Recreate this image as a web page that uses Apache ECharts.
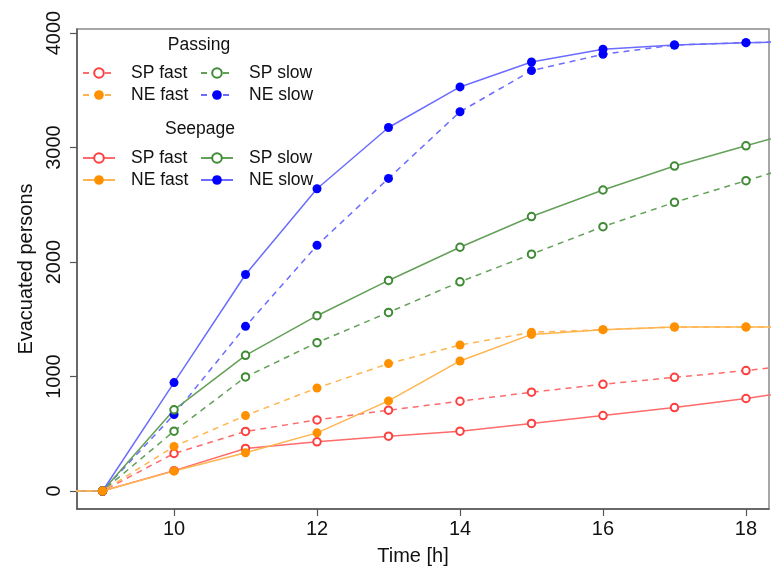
<!DOCTYPE html>
<html>
<head>
<meta charset="utf-8">
<script src="https://cdn.jsdelivr.net/npm/echarts@6/dist/echarts.min.js"></script>
<style>
  html, body { margin: 0; padding: 0; background: #fff; }
  #chart { width: 771px; height: 571px; }
</style>
</head>
<body>
<div id="chart"></div>
<script>
// ---- data ----
const hours = [8, 9, 10, 11, 12, 13, 14, 15, 16, 17, 18, 19];

// Passing (dashed)
const passSPfast = [0, 0, 328, 520, 621, 706, 784, 863, 932, 993, 1052, 1120];
const passNEfast = [0, 0, 389, 659, 900, 1113, 1275, 1386, 1409, 1432, 1432, 1432];
const passSPslow = [0, 0, 523, 996, 1296, 1560, 1827, 2068, 2309, 2521, 2710, 2900];
const passNEslow = [0, 0, 668, 1438, 2146, 2730, 3312, 3672, 3814, 3895, 3916, 3925];

// Seepage (solid)
const seepSPfast = [0, 0, 178, 372, 430, 479, 523, 590, 659, 729, 808, 900];
const seepNEfast = [0, 0, 174, 334, 508, 787, 1136, 1368, 1409, 1432, 1432, 1432];
const seepSPslow = [0, 0, 709, 1185, 1531, 1839, 2129, 2397, 2629, 2838, 3015, 3190];
const seepNEslow = [0, 0, 947, 1891, 2640, 3175, 3529, 3747, 3858, 3895, 3916, 3925];

const xTicks = [10, 12, 14, 16, 18];
const yTicks = [0, 1000, 2000, 3000, 4000];

// ---- styles ----
const C = {
  red:    { point: '#ff3f3f', line: '#ff6b6b' },
  orange: { point: '#ff9100', line: '#ffb54f' },
  green:  { point: '#3f8a34', line: '#63a058' },
  blue:   { point: '#0000ff', line: '#6c6cff' }
};

function pairs(vals) { return hours.map((h, i) => [h, vals[i]]); }

function mkSeries(name, vals, col, dashed, filled) {
  return {
    name: name,
    type: 'line',
    data: pairs(vals),
    clip: true,
    symbol: filled ? 'circle' : 'emptyCircle',
    symbolSize: filled ? 9 : 7.5,
    showSymbol: true,
    animation: false,
    lineStyle: { color: col.line, width: 1.5, type: dashed ? [6, 5] : 'solid' },
    itemStyle: filled
      ? { color: col.point, borderWidth: 0 }
      : { color: col.point, borderColor: col.point, borderWidth: 1.6 },
    emphasis: { disabled: true }
  };
}

const series = [
  mkSeries('P|SP fast', passSPfast, C.red, true, false),
  mkSeries('P|SP slow', passSPslow, C.green, true, false),
  mkSeries('P|NE slow', passNEslow, C.blue, true, true),
  mkSeries('S|SP fast', seepSPfast, C.red, false, false),
  mkSeries('S|SP slow', seepSPslow, C.green, false, false),
  mkSeries('S|NE slow', seepNEslow, C.blue, false, true),
  mkSeries('P|NE fast', passNEfast, C.orange, true, true),
  mkSeries('S|NE fast', seepNEfast, C.orange, false, true)
];

const FONT = '"Liberation Sans", Arial, sans-serif';

function mkLegend(names, left, top) {
  return {
    data: names,
    orient: 'vertical',
    left: left,
    top: top,
    padding: 0,
    itemWidth: 32,
    itemHeight: 12,
    itemGap: 4,
    selectedMode: false,
    formatter: n => n.split('|')[1],
    textStyle: { fontFamily: FONT, fontSize: 17.5, color: '#111', padding: [0, 0, 0, 11] }
  };
}

const chart = echarts.init(document.getElementById('chart'), null, { renderer: 'canvas' });
chart.setOption({
  animation: false,
  backgroundColor: '#fff',
  grid: {
    left: 77, top: 29, right: 2, bottom: 61,
    show: true, borderColor: '#8a8a8a', borderWidth: 1.5, backgroundColor: 'transparent'
  },
  xAxis: {
    type: 'value',
    min: 8.643, max: 18.322,
    name: 'Time [h]',
    nameLocation: 'middle',
    nameGap: 37,
    nameTextStyle: { fontFamily: FONT, fontSize: 20, color: '#111', padding: [0, 20, 0, 0] },
    axisLine: { show: true, onZero: false, lineStyle: { color: '#555', width: 1.5 } },
    axisTick: { show: true, customValues: xTicks, length: 7, lineStyle: { color: '#555', width: 1.2 } },
    axisLabel: { customValues: xTicks, margin: 10, fontFamily: FONT, fontSize: 20, color: '#111' },
    splitLine: { show: false }
  },
  yAxis: {
    type: 'value',
    min: -157, max: 4035,
    name: 'Evacuated persons',
    nameLocation: 'middle',
    nameGap: 41,
    nameTextStyle: { fontFamily: FONT, fontSize: 20, color: '#111' },
    axisLine: { show: true, onZero: false, lineStyle: { color: '#555', width: 1.5 } },
    axisTick: { show: true, customValues: yTicks, length: 7, lineStyle: { color: '#555', width: 1.2 } },
    axisLabel: { customValues: yTicks, rotate: 90, margin: 13, formatter: v => String(v),
                 fontFamily: FONT, fontSize: 20, color: '#111' },
    splitLine: { show: false }
  },
  legend: [
    mkLegend(['P|SP fast', 'P|NE fast'], 82, 64),
    mkLegend(['P|SP slow', 'P|NE slow'], 200, 64),
    mkLegend(['S|SP fast', 'S|NE fast'], 82, 149),
    mkLegend(['S|SP slow', 'S|NE slow'], 200, 149)
  ],
  graphic: [
    { type: 'text', x: 199, y: 45, style: { text: 'Passing', fontFamily: FONT, fontSize: 17.5, fill: '#111', textAlign: 'center', textVerticalAlign: 'middle' } },
    { type: 'text', x: 200, y: 129, style: { text: 'Seepage', fontFamily: FONT, fontSize: 17.5, fill: '#111', textAlign: 'center', textVerticalAlign: 'middle' } }
  ],
  series: series
});
</script>
</body>
</html>
